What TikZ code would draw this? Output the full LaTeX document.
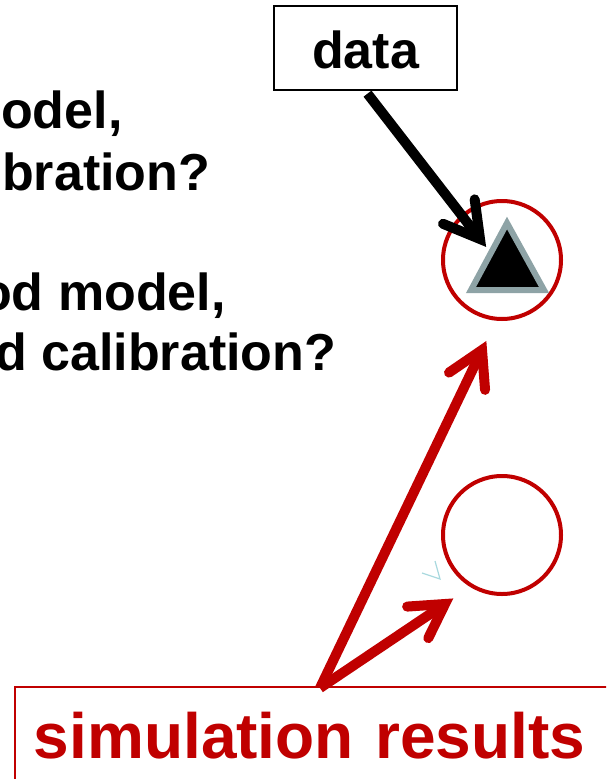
\documentclass[tikz,border=0pt]{standalone}
\usepackage{fontspec}
\setmainfont{Liberation Sans}
\usetikzlibrary{calc}
\definecolor{pptred}{RGB}{192,0,0}
\definecolor{trigray}{RGB}{142,163,166}
\definecolor{ltblue}{RGB}{168,216,222}
\tikzset{
  qtext/.style={anchor=base west, inner sep=0pt, font=\fontsize{52}{56}\selectfont\bfseries},
  databox/.style={draw=black, line width=1.3pt, minimum width=183pt, minimum height=84pt,
    inner sep=0pt, text height=40pt, text depth=0pt, font=\fontsize{52}{56}\selectfont\bfseries},
  simbox/.style={draw=pptred, line width=1.7pt, anchor=north west, text width=600pt, align=left,
    inner xsep=19pt, inner ysep=26pt, text height=46pt, text depth=14pt, text=pptred,
    font=\fontsize{64}{68}\selectfont\bfseries},
  ring/.style={circle, draw=pptred, line width=4pt, minimum size=118pt, inner sep=0pt},
  blkshaft/.style={draw=black, line width=10pt},
  blkhead/.style={draw=black, line width=10pt, line cap=round, line join=miter},
  redshaft/.style={draw=pptred, line width=10pt},
  redhead/.style={draw=pptred, line width=10pt, line cap=round, line join=miter},
}
\begin{document}
\begin{tikzpicture}[x=1pt,y=-1pt]
\useasboundingbox (0,0) rectangle (606,779);
\clip (0,0) rectangle (606,779);

% left question texts
\node[qtext] (q1) at (1,128) {odel,};
\node[qtext] (q2) at (2,190) {bration?};
\node[qtext] (q3) at (-20,310) {od model,};
\node[qtext] (q4) at (-5,370) {d calibration?};

% data box
\node[databox] (data) at (365.5,48) {data};

% circles
\node[ring] (top) at (502,260) {};
\node[ring] (bot) at (502,535) {};

% triangle in top circle
\draw[fill=black, draw=trigray, line width=6pt, line join=miter]
  (507,223) -- (544,290) -- (471,290) -- cycle;

% small light blue chevron
\draw[ltblue, line width=1.2pt] (422,573) -- (440,579) -- (435,561);

% simulation results box
\node[simbox] (sim) at (14,686) {simulation results};

% coordinates
\coordinate (src) at (320,688);
\coordinate (bv) at (480,239);
\coordinate (rv1) at (482,350);
\coordinate (rv2) at (445,604);

% black arrow
\draw[blkshaft] ([xshift=2pt,yshift=-3pt]data.south) -- (bv);
\draw[blkhead] ($(bv)!40pt!30:(data.south)$) -- (bv) -- ($(bv)!40pt!-30:(data.south)$);

% red arrows
\draw[redshaft] (src) -- (rv1);
\draw[redhead] ($(rv1)!40pt!30:(src)$) -- (rv1) -- ($(rv1)!40pt!-30:(src)$);
\draw[redshaft] (src) -- (rv2);
\draw[redhead] ($(rv2)!38pt!30:(src)$) -- (rv2) -- ($(rv2)!38pt!-30:(src)$);
\end{tikzpicture}
\end{document}
